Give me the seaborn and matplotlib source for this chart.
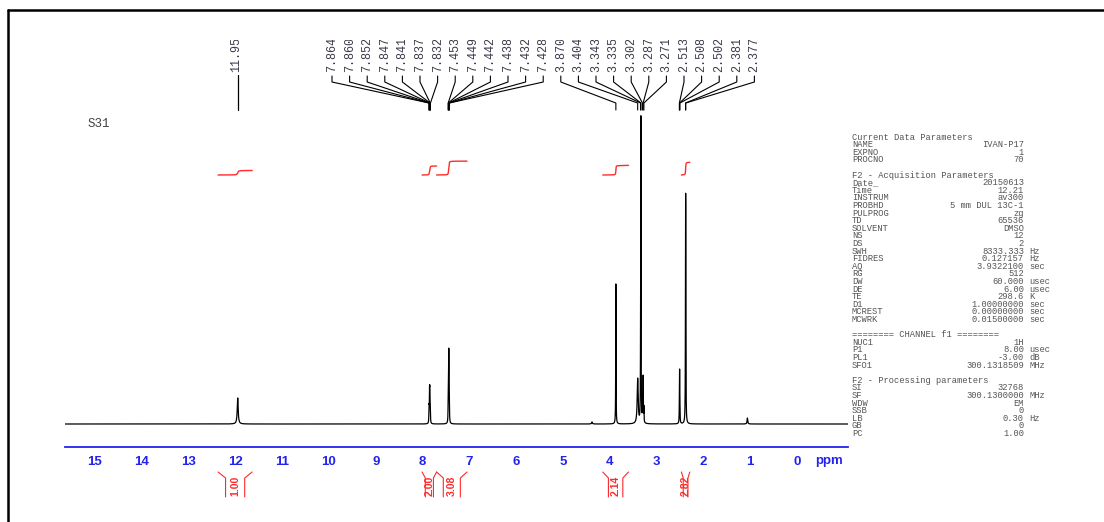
import numpy as np
import matplotlib
matplotlib.use("Agg")
import matplotlib.pyplot as plt
import seaborn as sns
import pandas as pd
from matplotlib.ticker import MultipleLocator
from matplotlib.lines import Line2D

# ---------------- data ----------------
peak_ppm = [11.95, 7.864, 7.860, 7.852, 7.847, 7.841, 7.837, 7.832,
            7.453, 7.449, 7.442, 7.438, 7.432, 7.428, 4.38, 3.870,
            3.404, 3.343, 3.335, 3.302, 3.287, 3.271,
            2.513, 2.508, 2.502, 2.381, 2.377, 1.06]
peak_height = [26, 7, 11, 25, 25, 14, 9, 5,
               12, 21, 45, 45, 21, 12, 2, 140,
               45, 40, 300, 20, 45, 15,
               15, 46, 15, 153, 153, 6]
peak_hwhm = [0.012, 0.0035, 0.0035, 0.0035, 0.0035, 0.0035, 0.0035, 0.0035,
             0.0035, 0.0035, 0.0035, 0.0035, 0.0035, 0.0035, 0.01, 0.0035,
             0.012, 0.0035, 0.0035, 0.0035, 0.0035, 0.0035,
             0.0035, 0.0035, 0.0035, 0.0035, 0.0035, 0.008]

label_first = "11.95"
label_values = ["7.864", "7.860", "7.852", "7.847", "7.841", "7.837", "7.832",
                "7.453", "7.449", "7.442", "7.438", "7.432", "7.428",
                "3.870", "3.404", "3.343", "3.335", "3.302", "3.287", "3.271",
                "2.513", "2.508", "2.502", "2.381", "2.377"]

integral_start = [12.37, 8.01, 7.70, 4.15, 2.47]
integral_end = [11.64, 7.70, 7.05, 3.60, 2.29]
integral_values = [1.00, 2.00, 3.08, 2.14, 2.82]

x_ticks = list(range(15, -1, -1))

param_names = ["Current Data Parameters", "NAME", "EXPNO", "PROCNO", "",
               "F2 - Acquisition Parameters", "Date_", "Time", "INSTRUM", "PROBHD",
               "PULPROG", "TD", "SOLVENT", "NS", "DS", "SWH", "FIDRES", "AQ", "RG",
               "DW", "DE", "TE", "D1", "MCREST", "MCWRK", "",
               "======== CHANNEL f1 ========", "NUC1", "P1", "PL1", "SFO1", "",
               "F2 - Processing parameters", "SI", "SF", "WDW", "SSB", "LB", "GB", "PC"]
param_values = ["", "IVAN-P17", "1", "70", "",
                "", "20150613", "12.21", "av300", "5 mm DUL 13C-1",
                "zg", "65536", "DMSO", "12", "2", "8333.333", "0.127157", "3.9322100", "512",
                "60.000", "6.00", "298.6", "1.00000000", "0.00000000", "0.01500000", "",
                "", "1H", "8.00", "-3.00", "300.1318509", "",
                "", "32768", "300.1300000", "EM", "0", "0.30", "0", "1.00"]
param_units = ["", "", "", "", "",
               "", "", "", "", "",
               "", "", "", "", "", "Hz", "Hz", "sec", "",
               "usec", "usec", "K", "sec", "sec", "sec", "",
               "", "", "usec", "dB", "MHz", "",
               "", "", "MHz", "", "", "Hz", "", ""]

# ---------------- style ----------------
sns.set_style("white")
plt.rcParams['font.family'] = ['Liberation Sans', 'DejaVu Sans']
BLUE = '#2323ee'
RED = '#ff2a2a'
MONO = ['Liberation Mono', 'DejaVu Sans Mono']

W, H = 1104, 522
fig = plt.figure(figsize=(W / 100, H / 100), dpi=100)

XL, XR = 15.64, -1.09
AX_L, AX_R, AX_B, AX_T = 65, 848, 447, 40
BASE = 424
ppm_per_px = (XL - XR) / (AX_R - AX_L)


def px2ppm(x):
    return XL - (x - AX_L) * ppm_per_px


def py(y):
    return BASE - y


ax = fig.add_axes([AX_L / W, (H - AX_B) / H, (AX_R - AX_L) / W, (AX_B - AX_T) / H])
ax.set_facecolor('none')

ppm = np.arange(XL, XR, -0.0005)
spec = np.zeros_like(ppm)
for p, h, w in zip(peak_ppm, peak_height, peak_hwhm):
    spec += h / (1.0 + ((ppm - p) / w) ** 2)

df = pd.DataFrame({'ppm': ppm, 'intensity': spec})
sns.lineplot(data=df, x='ppm', y='intensity', ax=ax, color='black', lw=0.9,
             estimator=None, sort=False)
ax.set_xlim(XL, XR)
ax.set_ylim(BASE - AX_B, BASE - AX_T)
ax.set_xlabel('')
ax.set_ylabel('')
ax.set_yticks([])
for s in ['top', 'right', 'left']:
    ax.spines[s].set_visible(False)
ax.spines['bottom'].set_color(BLUE)
ax.spines['bottom'].set_linewidth(1.3)
ax.set_xticks(x_ticks)
ax.set_xticklabels([str(t) for t in x_ticks])
ax.xaxis.set_minor_locator(MultipleLocator(0.1))
ax.tick_params(axis='x', which='major', direction='inout', length=7, width=1,
               color=BLUE, labelcolor=BLUE, labelsize=9.5, pad=3.0)
ax.tick_params(axis='x', which='minor', direction='in', length=3, width=0.8, color=BLUE)
for lab in ax.get_xticklabels():
    lab.set_fontweight('bold')
ax.text(px2ppm(815), py(455), 'ppm', color=BLUE, fontsize=9.5, fontweight='bold',
        ha='left', va='top', clip_on=False)

# sample name
ax.text(px2ppm(88), py(124), 'S31', family=MONO, fontsize=9, color='#444444',
        ha='left', va='center')

# peak labels + connectors
lab_color = '#3b3b4a'
x_first = px2ppm(236)
ax.text(x_first, py(72), label_first, rotation=90, ha='center', va='bottom',
        family=MONO, fontsize=8.5, color=lab_color, clip_on=True)
ax.plot([11.95, 11.95], [py(75), py(110)], color='black', lw=0.9)
for i, s in enumerate(label_values):
    lx = px2ppm(332 + 17.6 * i)
    pk = float(s)
    ax.text(lx, py(72), s, rotation=90, ha='center', va='bottom',
            family=MONO, fontsize=8.5, color=lab_color, clip_on=True)
    ax.plot([lx, lx, pk, pk], [py(76), py(82), py(103), py(110)],
            color='black', lw=0.8)

# integrals
for a, b, v in zip(integral_start, integral_end, integral_values):
    m = (ppm <= a) & (ppm >= b)
    seg = spec[m]
    cum = np.cumsum(seg)
    cum = cum / cum[-1]
    ax.plot(ppm[m], py(175) + v * 4.5 * cum, color=RED, lw=1.0)
    inset = min(0.18, 0.22 * (a - b))
    ax.plot([a, a - inset, a - inset], [py(472), py(478), py(497)],
            color=RED, lw=0.8, clip_on=False)
    ax.plot([b, b + inset, b + inset], [py(472), py(478), py(497)],
            color=RED, lw=0.8, clip_on=False)
    ax.text((a + b) / 2, py(486), f"{v:.2f}", rotation=90, ha='center', va='center',
            color=RED, fontsize=7.5, fontweight='bold', clip_on=False)

# parameter block
pax = fig.add_axes([850 / W, (H - 447) / H, (1060 - 850) / W, (447 - 10) / H])
pax.set_xlim(850, 1060)
pax.set_ylim(447, 10)
pax.axis('off')
pcol = '#555555'
PFS = 6.3
for k, (n, v, u) in enumerate(zip(param_names, param_values, param_units)):
    y = 137 + 7.6 * k
    if n:
        pax.text(852, y, n, family=MONO, fontsize=PFS, color=pcol,
                 ha='left', va='center', clip_on=True)
    if v:
        pax.text(1024, y, v, family=MONO, fontsize=PFS, color=pcol,
                 ha='right', va='center', clip_on=True)
    if u:
        pax.text(1029, y, u, family=MONO, fontsize=PFS, color=pcol,
                 ha='left', va='center', clip_on=True)

# frame
fig.add_artist(Line2D([8 / W, 1.0], [1 - 10 / H, 1 - 10 / H], color='black', lw=1.8,
                      transform=fig.transFigure))
fig.add_artist(Line2D([8 / W, 8 / W], [0, 1 - 10 / H], color='black', lw=1.8,
                      transform=fig.transFigure))

fig.savefig('out.png', dpi=100)
